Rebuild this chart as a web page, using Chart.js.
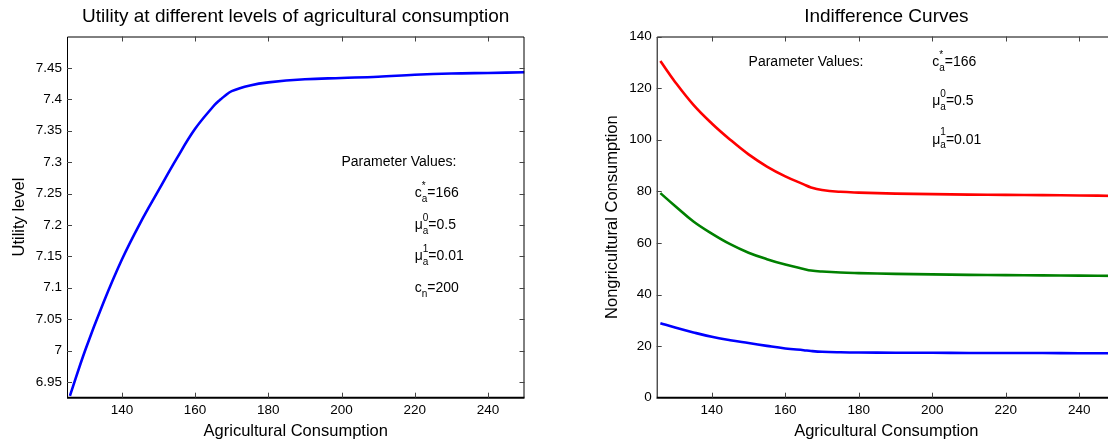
<!DOCTYPE html>
<html lang="en">
<head>
    <meta charset="UTF-8">
    <title>Utility and Indifference Curves</title>
    <script src="https://cdn.jsdelivr.net/npm/chart.js"></script>
    <style>
        html, body { margin: 0; padding: 0; overflow: hidden; background: white; }
        canvas { position: absolute; top: 0; }
    </style>
</head>
<body>
    <canvas id="utilityChart" width="545" height="442" style="left: 0px;"></canvas>
    <canvas id="indiffChart" width="570" height="442" style="left: 560px;"></canvas>

    <script>
        // Left panel: utility vs agricultural consumption
        const utilX = [125.8, 130, 135, 140, 145, 150, 155, 160, 165, 166, 167, 168, 170, 175, 180, 190, 200, 210, 220, 230, 240, 250];
        const utilY = [6.928, 7.001, 7.077, 7.145, 7.203, 7.255, 7.306, 7.353, 7.389, 7.395, 7.400, 7.405, 7.413, 7.422, 7.427, 7.432, 7.434, 7.436, 7.439, 7.441, 7.442, 7.443];
        const utilTicks = [6.95, 7, 7.05, 7.1, 7.15, 7.2, 7.25, 7.3, 7.35, 7.4, 7.45];

        // Right panel: indifference curves
        const curveX = [126, 130, 135, 140, 145, 150, 155, 160, 165, 167, 170, 175, 180, 190, 200, 210, 220, 230, 240, 250];
        const highCurve = [130.5, 122.4, 113.5, 106.3, 100, 94.3, 89.6, 85.8, 82.7, 81.5, 80.5, 79.8, 79.5, 79.1, 78.9, 78.7, 78.6, 78.5, 78.4, 78.2];
        const midCurve = [79.3, 74.3, 68.3, 63.6, 59.5, 56.2, 53.7, 51.6, 49.9, 49.3, 48.9, 48.5, 48.3, 48.0, 47.8, 47.6, 47.5, 47.4, 47.3, 47.2];
        const lowCurve = [28.9, 27.2, 25.3, 23.6, 22.3, 21.2, 20.1, 19.1, 18.4, 18.1, 17.8, 17.6, 17.5, 17.45, 17.4, 17.35, 17.3, 17.3, 17.25, 17.2];
        const curveTicks = [0, 20, 40, 60, 80, 100, 120, 140];

        const xTicks = [140, 160, 180, 200, 220, 240];

        // Parameter annotation text
        const paramTitle = 'Parameter Values:';
        const paramsLeft = [
            { base: 'c', sub: 'a', sup: '*', rest: '=166' },
            { base: 'μ', sub: 'a', sup: '0', rest: '=0.5' },
            { base: 'μ', sub: 'a', sup: '1', rest: '=0.01' },
            { base: 'c', sub: 'n', sup: '', rest: '=200' }
        ];
        const paramsRight = paramsLeft.slice(0, 3);

        const FONT = '"Liberation Sans", Arial, Helvetica, sans-serif';
        Chart.defaults.font.family = FONT;
        Chart.defaults.color = '#000';

        const toPoints = (xs, ys) => xs.map((x, i) => ({ x: x, y: ys[i] }));
        const fmt = v => String(+v.toFixed(2));

        // box around the axes with ticks pointing inward (matlab style)
        const framePlugin = {
            id: 'frame',
            afterDatasetsDraw(chart) {
                const { ctx, chartArea: a, scales: { x, y } } = chart;
                const len = 5;
                ctx.save();
                ctx.strokeStyle = '#000';
                ctx.lineWidth = 1;
                ctx.beginPath();
                ctx.moveTo(a.left + 0.5, a.bottom);
                ctx.lineTo(a.left + 0.5, a.top + 0.5);
                ctx.lineTo(a.right - 0.5, a.top + 0.5);
                ctx.lineTo(a.right - 0.5, a.bottom);
                ctx.stroke();
                ctx.lineWidth = 2;
                ctx.beginPath();
                ctx.moveTo(a.left, a.bottom);
                ctx.lineTo(a.right, a.bottom);
                ctx.stroke();

                ctx.strokeStyle = '#444';
                ctx.lineWidth = 1;
                ctx.beginPath();
                x.ticks.forEach(t => {
                    const px = Math.round(x.getPixelForValue(t.value)) + 0.5;
                    ctx.moveTo(px, a.bottom); ctx.lineTo(px, a.bottom - len);
                    ctx.moveTo(px, a.top); ctx.lineTo(px, a.top + len);
                });
                y.ticks.forEach(t => {
                    const py = Math.round(y.getPixelForValue(t.value)) + 0.5;
                    ctx.moveTo(a.left, py); ctx.lineTo(a.left + len, py);
                    ctx.moveTo(a.right, py); ctx.lineTo(a.right - len, py);
                });
                ctx.stroke();
                ctx.restore();
            }
        };

        // parameter text with sub/superscripts, placed in data coordinates
        const notesPlugin = {
            id: 'notes',
            afterDatasetsDraw(chart, args, opts) {
                const { ctx, scales: { x, y } } = chart;
                const main = '14px ' + FONT;
                const small = '10px ' + FONT;
                ctx.save();
                ctx.fillStyle = '#000';
                ctx.textBaseline = 'middle';
                ctx.textAlign = 'left';
                ctx.font = main;
                ctx.fillText(paramTitle, x.getPixelForValue(opts.titleAt[0]), y.getPixelForValue(opts.titleAt[1]));
                opts.items.forEach((p, i) => {
                    let px = x.getPixelForValue(opts.paramX);
                    const py = y.getPixelForValue(opts.paramY[i]);
                    ctx.font = main;
                    ctx.fillText(p.base, px, py);
                    px += ctx.measureText(p.base).width;
                    ctx.font = small;
                    ctx.fillText(p.sub, px, py + 6);
                    if (p.sup) ctx.fillText(p.sup, px, py - 7);
                    px += Math.max(ctx.measureText(p.sub).width, ctx.measureText(p.sup).width);
                    ctx.font = main;
                    ctx.fillText(p.rest, px, py);
                });
                ctx.restore();
            }
        };

        function axisX(title) {
            return {
                type: 'linear',
                min: 125,
                max: 250,
                grid: { display: false, drawTicks: false },
                border: { display: false },
                afterBuildTicks: s => { s.ticks = xTicks.map(v => ({ value: v })); },
                afterFit: s => { s.height = 44.3; },
                ticks: { font: { size: 13.5 }, padding: 4, callback: fmt, maxRotation: 0 },
                title: { display: true, text: title, font: { size: 16.5 }, padding: { top: 0, bottom: 1 } }
            };
        }

        function axisY(min, max, ticks, title, width, titlePad) {
            return {
                type: 'linear',
                min: min,
                max: max,
                grid: { display: false, drawTicks: false },
                border: { display: false },
                afterBuildTicks: s => { s.ticks = ticks.map(v => ({ value: v })); },
                afterFit: s => { s.width = width; },
                ticks: { font: { size: 13.5 }, padding: 5, callback: fmt },
                title: { display: true, text: title, font: { size: 16.5 }, padding: { top: titlePad, bottom: 0 } }
            };
        }

        function titleOpts(text) {
            return {
                display: true,
                text: text,
                fullSize: false,
                color: '#000',
                font: { size: 19, weight: 'normal' },
                padding: { top: 5.5, bottom: 8.2 }
            };
        }

        const lineStyle = { borderWidth: 2.6, pointRadius: 0, fill: false, tension: 0.4 };

        new Chart(document.getElementById('utilityChart'), {
            type: 'line',
            data: {
                datasets: [Object.assign({ data: toPoints(utilX, utilY), borderColor: '#0000ff' }, lineStyle)]
            },
            options: {
                responsive: false,
                animation: false,
                layout: { padding: { left: 0, right: 20.5, top: 0, bottom: 0 } },
                scales: {
                    x: axisX('Agricultural Consumption'),
                    y: axisY(6.925, 7.5, utilTicks, 'Utility level', 67, 10)
                },
                plugins: {
                    legend: { display: false },
                    tooltip: { enabled: false },
                    title: titleOpts('Utility at different levels of agricultural consumption'),
                    notes: { titleAt: [200, 7.3], paramX: 220, paramY: [7.25, 7.2, 7.15, 7.1], items: paramsLeft }
                }
            },
            plugins: [framePlugin, notesPlugin]
        });

        new Chart(document.getElementById('indiffChart'), {
            type: 'line',
            data: {
                datasets: [
                    Object.assign({ data: toPoints(curveX, highCurve), borderColor: '#ff0000' }, lineStyle),
                    Object.assign({ data: toPoints(curveX, midCurve), borderColor: '#008000' }, lineStyle),
                    Object.assign({ data: toPoints(curveX, lowCurve), borderColor: '#0000ff' }, lineStyle)
                ]
            },
            options: {
                responsive: false,
                animation: false,
                layout: { padding: { left: 0, right: 14, top: 0, bottom: 0 } },
                scales: {
                    x: axisX('Agricultural Consumption'),
                    y: axisY(0, 140, curveTicks, 'Nongricultural Consumption', 96.7, 43)
                },
                plugins: {
                    legend: { display: false },
                    tooltip: { enabled: false },
                    title: titleOpts('Indifference Curves'),
                    notes: { titleAt: [150, 130], paramX: 200, paramY: [130, 115, 100], items: paramsRight }
                }
            },
            plugins: [framePlugin, notesPlugin]
        });
    </script>
</body>
</html>
